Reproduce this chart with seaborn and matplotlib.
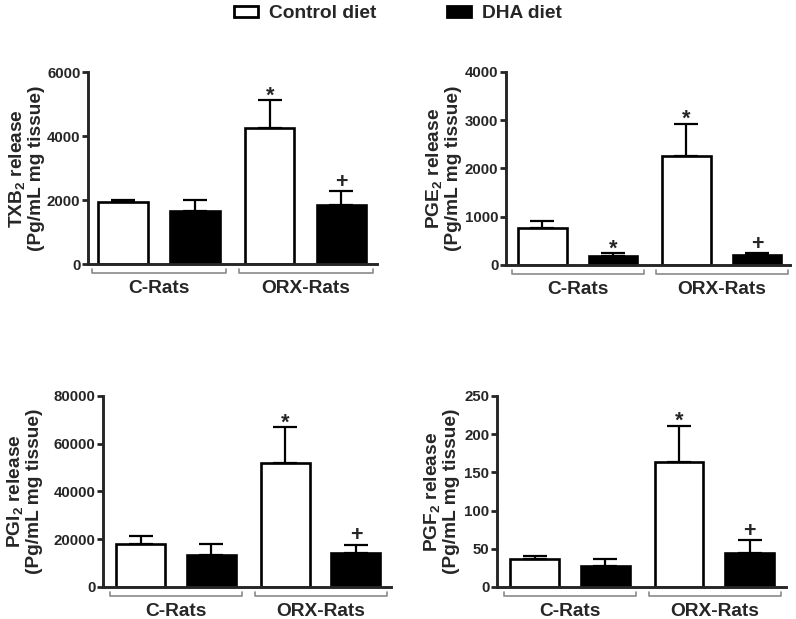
import numpy as np
import pandas as pd
import matplotlib
matplotlib.use("Agg")
import matplotlib.pyplot as plt
import matplotlib.transforms as mtransforms
from matplotlib.patches import Patch
import seaborn as sns

# ---------------- data ----------------
groups = ["C-Rats", "ORX-Rats"]
diets = ["Control diet", "DHA diet"]

txb2_control = [1930, 4250]
txb2_control_sem = [80, 880]
txb2_dha = [1650, 1850]
txb2_dha_sem = [350, 430]
txb2_control_marks = ["", "*"]
txb2_dha_marks = ["", "+"]
txb2_ticks = [0, 2000, 4000, 6000]

pge2_control = [770, 2250]
pge2_control_sem = [140, 680]
pge2_dha = [190, 200]
pge2_dha_sem = [60, 40]
pge2_control_marks = ["", "*"]
pge2_dha_marks = ["*", "+"]
pge2_ticks = [0, 1000, 2000, 3000, 4000]

pgi2_control = [18100, 52000]
pgi2_control_sem = [3300, 15000]
pgi2_dha = [13500, 14200]
pgi2_dha_sem = [4600, 3500]
pgi2_control_marks = ["", "*"]
pgi2_dha_marks = ["", "+"]
pgi2_ticks = [0, 20000, 40000, 60000, 80000]

pgf2_control = [36, 163]
pgf2_control_sem = [4, 48]
pgf2_dha = [28, 44]
pgf2_dha_sem = [8, 17]
pgf2_control_marks = ["", "*"]
pgf2_dha_marks = ["", "+"]
pgf2_ticks = [0, 50, 100, 150, 200, 250]

# ---------------- style ----------------
sns.set_style("ticks")
plt.rcParams["font.family"] = ["Liberation Sans", "DejaVu Sans"]
plt.rcParams["font.weight"] = "bold"
plt.rcParams["mathtext.fontset"] = "custom"
plt.rcParams["mathtext.rm"] = "Liberation Sans:bold"
plt.rcParams["mathtext.it"] = "Liberation Sans:bold"
plt.rcParams["mathtext.bf"] = "Liberation Sans:bold"
plt.rcParams["mathtext.default"] = "rm"

fig = plt.figure(figsize=(7.96, 6.19), dpi=100)

panels = [
    dict(label="TXB$_2$ release\n(Pg/mL mg tissue)", ticks=txb2_ticks,
         c=txb2_control, cs=txb2_control_sem, d=txb2_dha, ds=txb2_dha_sem,
         cm=txb2_control_marks, dm=txb2_dha_marks,
         rect=[0.1106, 0.5735, 0.363, 0.310], xlim=(-0.485, 1.488), labx=-0.149),
    dict(label="PGE$_2$ release\n(Pg/mL mg tissue)", ticks=pge2_ticks,
         c=pge2_control, cs=pge2_control_sem, d=pge2_dha, ds=pge2_dha_sem,
         cm=pge2_control_marks, dm=pge2_dha_marks,
         rect=[0.6357, 0.5719, 0.357, 0.312], xlim=(-0.497, 1.476), labx=-0.155),
    dict(label="PGI$_2$ release\n(Pg/mL mg tissue)", ticks=pgi2_ticks,
         c=pgi2_control, cs=pgi2_control_sem, d=pgi2_dha, ds=pgi2_dha_sem,
         cm=pgi2_control_marks, dm=pgi2_dha_marks,
         rect=[0.1294, 0.0517, 0.3618, 0.3086], xlim=(-0.505, 1.488), labx=-0.208),
    dict(label="PGF$_2$ release\n(Pg/mL mg tissue)", ticks=pgf2_ticks,
         c=pgf2_control, cs=pgf2_control_sem, d=pgf2_dha, ds=pgf2_dha_sem,
         cm=pgf2_control_marks, dm=pgf2_dha_marks,
         rect=[0.6244, 0.0517, 0.363, 0.3086], xlim=(-0.505, 1.495), labx=-0.128),
]

mark_offset = {"*": -1.0, "+": 2.5}

for p in panels:
    ax = fig.add_axes(p["rect"])
    df = pd.DataFrame({
        "group": groups * 2,
        "diet": [diets[0]] * 2 + [diets[1]] * 2,
        "value": list(p["c"]) + list(p["d"]),
    })
    sns.barplot(data=df, x="group", y="value", hue="diet", order=groups,
                hue_order=diets, palette={diets[0]: "white", diets[1]: "black"},
                edgecolor="black", linewidth=1.9, width=0.98, gap=0.31,
                errorbar=None, legend=False, ax=ax)
    bar_containers = list(ax.containers)
    sems = [p["cs"], p["ds"]]
    marks = [p["cm"], p["dm"]]
    vals = [p["c"], p["d"]]
    for i, cont in enumerate(bar_containers):
        for j, bar in enumerate(cont.patches):
            cx = bar.get_x() + bar.get_width() / 2
            top = vals[i][j]
            err = sems[i][j]
            ax.errorbar([cx], [top], yerr=[[0], [err]], fmt="none",
                        ecolor="black", elinewidth=1.6, capsize=8.6,
                        capthick=1.6, zorder=1)
            m = marks[i][j]
            if m:
                ax.annotate(m, xy=(cx, top + err), xytext=(0, mark_offset[m]),
                            textcoords="offset points", ha="center",
                            va="baseline", fontsize=15.5, fontweight="bold")
    ax.set_ylim(0, p["ticks"][-1])
    ax.set_yticks(p["ticks"])
    ax.set_xlim(*p["xlim"])
    sns.despine(ax=ax)
    for s in ["left", "bottom"]:
        ax.spines[s].set_linewidth(2.1)
    ax.tick_params(axis="y", length=4.3, width=2.0, pad=1.2, labelsize=10.8)
    ax.tick_params(axis="x", length=0, pad=11.5, labelsize=13.8)
    for t in ax.get_xticklabels() + ax.get_yticklabels():
        t.set_fontweight("bold")
    ax.set_xlabel("")
    ax.set_ylabel(p["label"], fontsize=13.8, fontweight="bold", linespacing=1.05)
    ax.yaxis.set_label_coords(p["labx"], 0.5)
    # group brackets below axis
    trans = mtransforms.blended_transform_factory(ax.transData, ax.transAxes)
    for gi in range(len(groups)):
        x0, x1 = gi - 0.455, gi + 0.46
        ax.plot([x0, x0, x1, x1], [-0.025, -0.047, -0.047, -0.025],
                color="#8a8a8a", lw=1.2, transform=trans, clip_on=False)

handles = [Patch(facecolor="white", edgecolor="black", linewidth=2.0),
           Patch(facecolor="black", edgecolor="black", linewidth=2.0)]
fig.legend(handles, diets, loc="center", bbox_to_anchor=(0.5, 1 - 14 / 619),
           ncol=2, frameon=False, handlelength=1.25, handleheight=0.55,
           handletextpad=0.55, columnspacing=3.7,
           prop={"size": 13.8, "weight": "bold"})

fig.savefig("out.png", dpi=100)
